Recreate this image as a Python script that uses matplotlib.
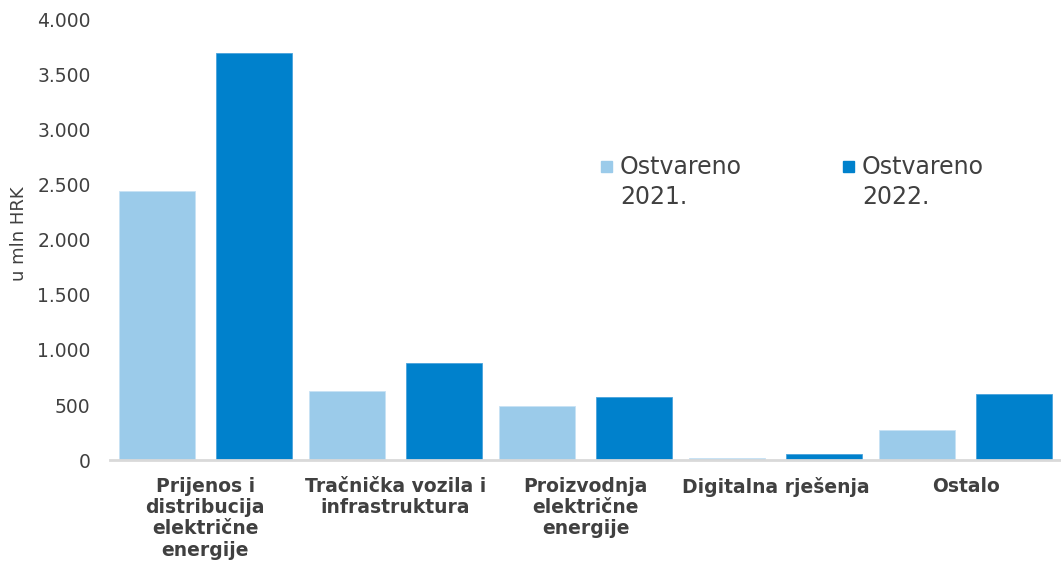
import matplotlib

matplotlib.use("Agg")
import matplotlib.pyplot as plt
import numpy as np
from matplotlib.patches import Rectangle
from matplotlib.ticker import FuncFormatter

plt.rcParams["font.family"] = ["DejaVu Sans"]

categories = [
    "Prijenos i\ndistribucija\nelektrične\nenergije",
    "Tračnička vozila i\ninfrastruktura",
    "Proizvodnja\nelektrične\nenergije",
    "Digitalna rješenja",
    "Ostalo",
]
ostvareno_2021 = [2440, 626, 496, 18, 278]
ostvareno_2022 = [3692, 886, 569, 52, 599]
series_labels = ["Ostvareno\n2021.", "Ostvareno\n2022."]
y_ticks = [0, 500, 1000, 1500, 2000, 2500, 3000, 3500, 4000]

c_light = "#9BCBEA"
c_dark = "#0081CC"
c_text = "#404040"

fig = plt.figure(figsize=(10.61, 5.64), dpi=100)
ax = fig.add_axes([0.1037, 0.184, 0.8963, 0.782])

x = np.arange(len(categories))
w = 0.4
off = 0.255
ax.bar(x - off, ostvareno_2021, w, color=c_light, edgecolor="#c8e2f4", lw=0.6)
ax.bar(x + off, ostvareno_2022, w, color=c_dark, edgecolor="#4aa3dc", lw=0.6)

ax.set_xlim(-0.5, len(categories) - 0.5)
ax.set_ylim(0, 4000)
ax.set_yticks(y_ticks)
ax.yaxis.set_major_formatter(FuncFormatter(lambda v, p: f"{int(v):,}".replace(",", ".")))
ax.tick_params(axis="y", length=0, pad=14, labelsize=13.5, labelcolor=c_text)
ax.set_xticks(x)
ax.set_xticklabels(categories, fontsize=13.5, fontweight="bold", color=c_text,
                   linespacing=1.15)
ax.tick_params(axis="x", length=0, pad=12)

for s in ("top", "right", "left"):
    ax.spines[s].set_visible(False)
ax.spines["bottom"].set_color("#d9d9d9")
ax.spines["bottom"].set_linewidth(2)

fig.text(0.018, 0.585, "u mln HRK", rotation=90, ha="center", va="center",
         fontsize=13, color=c_text)

# legenda (ručno, oznaka poravnata s prvim retkom)
for (sx, tx), col, lab in zip(((601, 620), (843, 862)), (c_light, c_dark), series_labels):
    fig.patches.append(Rectangle((sx / 1061, 1 - 172 / 564), 11 / 1061, 11 / 564,
                                 transform=fig.transFigure, color=col, figure=fig))
    fig.text(tx / 1061, 1 - 155 / 564, lab, ha="left", va="top", fontsize=17,
             color=c_text, linespacing=1.3)

fig.savefig("out.png", dpi=100)
plt.close(fig)
